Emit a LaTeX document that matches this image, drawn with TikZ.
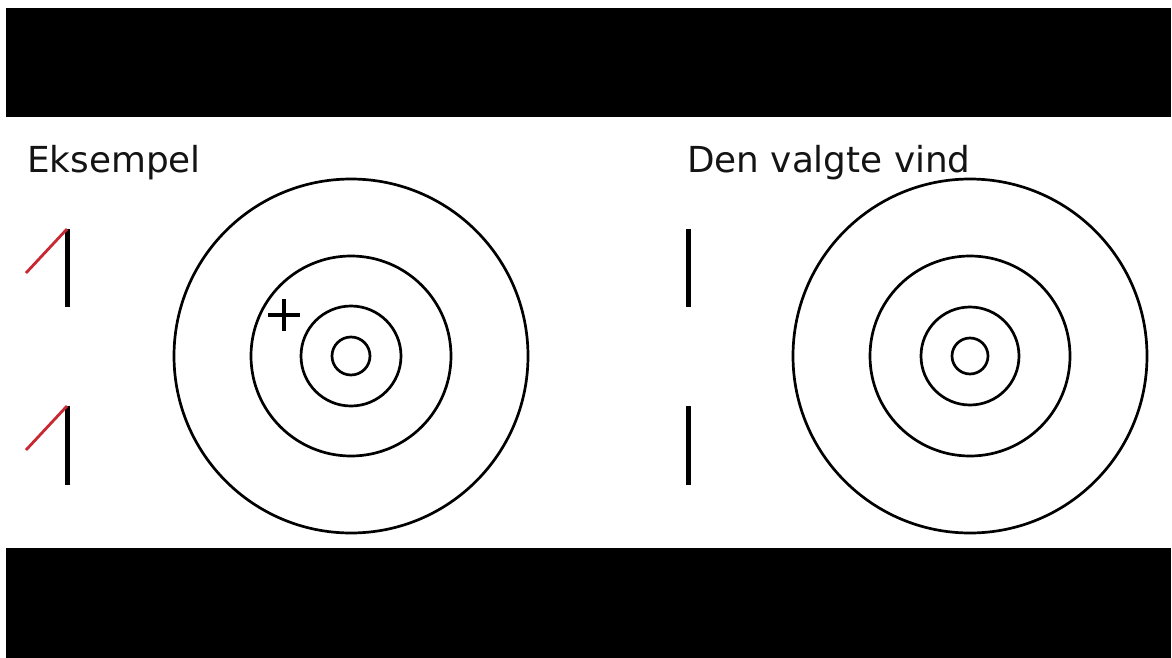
\documentclass[tikz,border=0pt]{standalone}
\usepackage{fontspec}
\setmainfont{DejaVu Sans}
\begin{document}
\begin{tikzpicture}[x=1pt,y=-1pt,
  ring/.style={draw=black,line width=2.7pt},
  bar/.style={draw=black,line width=5pt},
  redline/.style={draw={rgb,255:red,200;green,40;blue,50},line width=2.8pt},
  title/.style={anchor=base west,inner sep=0pt,font=\fontsize{35.8}{40}\selectfont,text={rgb,255:red,20;green,20;blue,20}}]
\useasboundingbox (0,0) rectangle (1172,658);
\fill[white] (0,0) rectangle (1172,658);
\fill[black] (6,8) rectangle (1171,117);
\fill[black] (6,548) rectangle (1171,658);
% titles
\node[title] (t1) at (27,172) {Eksempel};
\node[title] (t2) at (687,172) {Den valgte vind};
% left symbols
\coordinate (a1) at (67,229);
\coordinate (a2) at (67,307);
\coordinate (a3) at (26,273);
\draw[bar] (a1) -- (a2);
\draw[redline] (a3) -- (a1);
\coordinate (b1) at (67,406);
\coordinate (b2) at (67,485);
\coordinate (b3) at (26,450);
\draw[bar] (b1) -- (b2);
\draw[redline] (b3) -- (b1);
% right bars
\coordinate (c1) at (688,229);
\coordinate (c2) at (688,307);
\draw[bar] (c1) -- (c2);
\coordinate (d1) at (688,406);
\coordinate (d2) at (688,485);
\draw[bar] (d1) -- (d2);
% left target
\coordinate (L) at (351,356);
\foreach \r in {177,100,50,19} \draw[ring] (L) circle (\r);
\coordinate (p) at (284,315);
\draw[line width=4.5pt] ([xshift=-16pt]p) -- ([xshift=16pt]p);
\draw[line width=4.5pt] ([yshift=-16pt]p) -- ([yshift=16pt]p);
% right target
\coordinate (R) at (970,356);
\foreach \r in {177,100,49,18} \draw[ring] (R) circle (\r);
\end{tikzpicture}
\end{document}
